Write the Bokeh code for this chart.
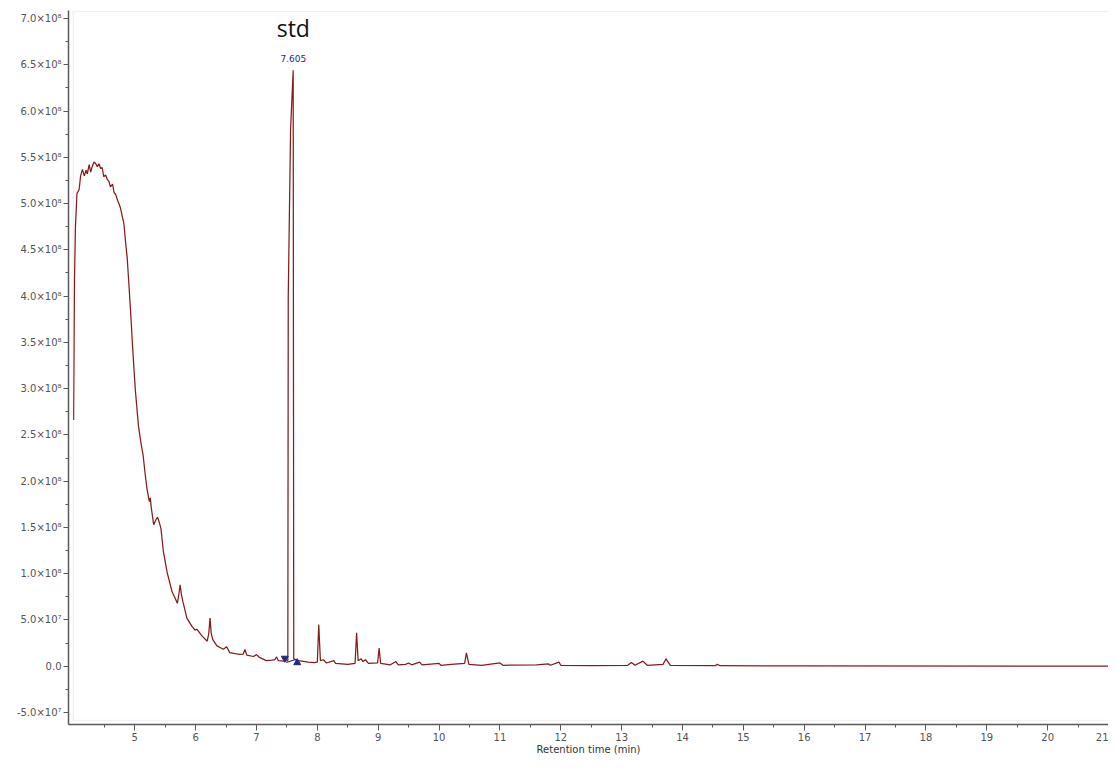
from bokeh.plotting import figure
from bokeh.models import (FixedTicker, CustomJSTickFormatter, BoxAnnotation, Label,
                          ColumnDataSource, Range1d)
from bokeh.embed import file_html
from bokeh.resources import INLINE

# ---- data (retention time in min, intensity in counts) ----
rt_min = [3.995, 4.003, 4.010, 4.025, 4.050, 4.085, 4.110, 4.140, 4.170, 4.200,
          4.220, 4.250, 4.276, 4.300, 4.330, 4.360, 4.385, 4.410, 4.440, 4.465,
          4.490, 4.520, 4.550, 4.575, 4.600, 4.635, 4.660, 4.685, 4.720, 4.745,
          4.766, 4.795, 4.820, 4.848, 4.876, 4.900, 4.930, 4.958, 4.985, 5.010,
          5.060, 5.100, 5.137, 5.170, 5.200, 5.240, 5.255, 5.270, 5.310, 5.345,
          5.375, 5.400, 5.430, 5.470, 5.530, 5.610, 5.660, 5.700, 5.725, 5.745,
          5.765, 5.790, 5.856, 5.940, 5.990, 6.020, 6.100, 6.190, 6.215, 6.237,
          6.255, 6.280, 6.350, 6.455, 6.510, 6.560, 6.650, 6.730, 6.780, 6.810,
          6.840, 6.950, 7.000, 7.050, 7.160, 7.250, 7.300, 7.330, 7.360, 7.450,
          7.515, 7.522, 7.560, 7.603, 7.612, 7.680, 7.750, 7.850, 7.950, 8.000,
          8.023, 8.050, 8.100, 8.150, 8.270, 8.300, 8.500, 8.620, 8.645, 8.670,
          8.720, 8.750, 8.790, 8.840, 8.990, 9.015, 9.040, 9.200, 9.290, 9.330,
          9.450, 9.500, 9.550, 9.680, 9.720, 10.000, 10.030, 10.200, 10.420, 10.450,
          10.490, 10.700, 11.000, 11.050, 11.600, 11.800, 11.830, 11.970, 12.000, 12.500,
          13.100, 13.160, 13.220, 13.350, 13.420, 13.680, 13.730, 13.800, 14.540, 14.570,
          14.620, 16.000, 21.050]
intensity = [26.6e7, 35.0e7, 42.0e7, 47.5e7, 51.1e7, 51.5e7, 53.0e7, 53.7e7, 53.0e7, 53.6e7,
             53.2e7, 54.2e7, 53.4e7, 54.0e7, 54.5e7, 54.3e7, 54.0e7, 54.3e7, 53.8e7, 53.9e7,
             52.9e7, 53.1e7, 52.6e7, 52.4e7, 51.8e7, 52.1e7, 51.2e7, 51.0e7, 50.3e7, 49.9e7,
             49.5e7, 48.6e7, 47.9e7, 45.9e7, 44.1e7, 41.6e7, 38.5e7, 35.2e7, 32.3e7, 29.8e7,
             26.0e7, 24.2e7, 22.8e7, 20.8e7, 19.2e7, 17.8e7, 18.2e7, 17.2e7, 15.3e7, 15.8e7,
             16.1e7, 15.6e7, 14.9e7, 12.4e7, 10.2e7, 8.1e7, 7.4e7, 6.8e7, 7.8e7, 8.8e7,
             7.8e7, 7.0e7, 5.2e7, 4.3e7, 3.9e7, 4.0e7, 3.3e7, 2.7e7, 3.5e7, 5.2e7,
             3.6e7, 2.9e7, 2.2e7, 1.83e7, 2.1e7, 1.47e7, 1.35e7, 1.29e7, 1.30e7, 1.80e7,
             1.20e7, 1.05e7, 1.25e7, 0.95e7, 0.60e7, 0.65e7, 0.70e7, 1.00e7, 0.60e7, 0.55e7,
             0.60e7, 40.0e7, 58.0e7, 64.4e7, 0.80e7, 0.60e7, 0.55e7, 0.45e7, 0.40e7, 0.45e7,
             4.50e7, 0.60e7, 0.70e7, 0.35e7, 0.60e7, 0.30e7, 0.20e7, 0.30e7, 3.60e7, 0.60e7,
             0.80e7, 0.50e7, 0.70e7, 0.30e7, 0.35e7, 1.95e7, 0.30e7, 0.15e7, 0.50e7, 0.15e7,
             0.20e7, 0.35e7, 0.15e7, 0.45e7, 0.15e7, 0.30e7, 0.10e7, 0.20e7, 0.30e7, 1.45e7,
             0.20e7, 0.10e7, 0.35e7, 0.10e7, 0.15e7, 0.25e7, 0.10e7, 0.45e7, 0.10e7, 0.05e7,
             0.10e7, 0.40e7, 0.10e7, 0.55e7, 0.10e7, 0.20e7, 0.80e7, 0.10e7, 0.05e7, 0.20e7,
             0.05e7, 0.03e7, 0.00e7]

# labelled peak and its integration baseline
peak_rt = 7.605
peak_label = "7.605"
peak_name = "std"
baseline_rt = [7.49, 7.655]
baseline_val = [0.40e7, 0.75e7]
start_marker_rt = [7.465]
start_marker_val = [0.86e7]
end_marker_rt = [7.67]
end_marker_val = [0.38e7]

x_tick_values = [5, 6, 7, 8, 9, 10, 11, 12, 13, 14, 15, 16, 17, 18, 19, 20, 21]
x_minor_values = [4.5, 5.5, 6.5, 7.5, 8.5, 9.5, 10.5, 11.5, 12.5, 13.5, 14.5, 15.5,
                  16.5, 17.5, 18.5, 19.5, 20.5]
y_tick_values = [-5e7, 0, 5e7, 1e8, 1.5e8, 2e8, 2.5e8, 3e8, 3.5e8, 4e8, 4.5e8,
                 5e8, 5.5e8, 6e8, 6.5e8, 7e8]
y_minor_values = [-2.5e7, 2.5e7, 7.5e7, 1.25e8, 1.75e8, 2.25e8, 2.75e8, 3.25e8,
                  3.75e8, 4.25e8, 4.75e8, 5.25e8, 5.75e8, 6.25e8, 6.75e8]

TRACE = "#851c1c"
MARK = "#1f2a80"
AXIS = "#5a5a5a"

p = figure(width=1108, height=757, output_backend="svg", toolbar_location=None,
           x_range=Range1d(3.911, 21.0), y_range=Range1d(-6.3e7, 7.087e8),
           min_border_left=68, min_border_right=0, min_border_top=10, min_border_bottom=0)
p.outline_line_color = None
p.grid.visible = False

# inner light frame of the chromatogram window
p.add_layout(BoxAnnotation(left=3.988, right=21.5, bottom=-5.85e7, top=7.075e8,
                           fill_alpha=0, line_color="#c4c4c4", line_width=1))

src = ColumnDataSource(dict(rt=rt_min, y=intensity))
p.line("rt", "y", source=src, line_color=TRACE, line_width=1.25)

p.line(baseline_rt, baseline_val, line_color=MARK, line_width=1.2)
p.scatter(start_marker_rt, start_marker_val, marker="inverted_triangle", size=7,
          fill_color=MARK, line_color=MARK)
p.scatter(end_marker_rt, end_marker_val, marker="triangle", size=7,
          fill_color=MARK, line_color=MARK)

p.add_layout(Label(x=peak_rt, y=6.9e8, text=peak_name, text_align="center",
                   text_baseline="middle", text_font="Open Sans",
                   text_font_size="23px", text_color="#111111"))
p.add_layout(Label(x=peak_rt, y=6.57e8, text=peak_label, text_align="center",
                   text_baseline="middle", text_font="DejaVu Sans",
                   text_font_size="9px", text_color=MARK))

# axes
p.xaxis.ticker = FixedTicker(ticks=x_tick_values, minor_ticks=x_minor_values)
p.yaxis.ticker = FixedTicker(ticks=y_tick_values, minor_ticks=y_minor_values)
p.yaxis.formatter = CustomJSTickFormatter(code="""
    if (Math.abs(tick) < 1) return "0.0";
    const e = Math.floor(Math.log10(Math.abs(tick)) + 1e-9);
    const m = tick / Math.pow(10, e);
    const sup = {"0":"\u2070","1":"\u00b9","2":"\u00b2","3":"\u00b3","4":"\u2074",
                 "5":"\u2075","6":"\u2076","7":"\u2077","8":"\u2078","9":"\u2079"};
    return m.toFixed(1) + "\u00d710" + String(e).split("").map(c => sup[c]).join("");
""")

for ax in (p.xaxis[0], p.yaxis[0]):
    ax.axis_line_color = AXIS
    ax.axis_line_width = 1.5
    ax.major_tick_line_color = AXIS
    ax.minor_tick_line_color = AXIS
    ax.major_tick_in = 0
    ax.minor_tick_in = 0
    ax.major_label_text_font = "DejaVu Sans"
    ax.major_label_text_font_size = "10px"
    ax.major_label_text_color = "#555555"

p.xaxis.major_tick_out = 6
p.xaxis.minor_tick_out = 3
p.xaxis.major_label_standoff = 2
p.xaxis.axis_label = "Retention time (min)"
p.xaxis.axis_label_text_font = "DejaVu Sans"
p.xaxis.axis_label_text_font_size = "10px"
p.xaxis.axis_label_text_font_style = "normal"
p.xaxis.axis_label_text_color = "#333333"
p.xaxis.axis_label_standoff = 0

p.yaxis.major_tick_out = 5
p.yaxis.minor_tick_out = 3
p.yaxis.major_label_standoff = 2

open("out.html", "w").write(file_html(p, INLINE))
